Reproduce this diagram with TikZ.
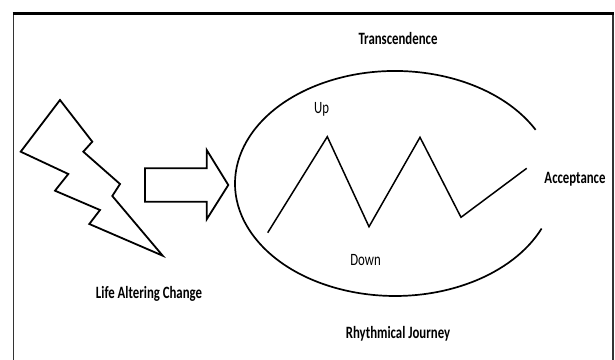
\documentclass[tikz,border=0pt]{standalone}
\usepackage{fontspec}
\setmainfont{Carlito}
\newcommand\stretchtxt[1]{\scalebox{1}[1.35]{#1}}
\begin{document}
\begin{tikzpicture}[x=1pt,y=1pt,
  lbl/.style={font=\fontsize{12.8}{15}\selectfont\bfseries, inner sep=0pt},
  lblr/.style={font=\fontsize{12.8}{15}\selectfont, inner sep=0pt},
  shapeline/.style={line width=1.8pt, line join=miter},
  thinline/.style={line width=1.5pt}]
\useasboundingbox (0,0) rectangle (615,359);
% frame
\draw[line width=1.6pt, black!80] (13.5,-3) -- (13.5,345.7);
\draw[line width=1.6pt, black!80] (612.7,-3) -- (612.7,345.7);
\draw[line width=3pt] (12.7,345.7) -- (613.5,345.7);
% lightning
\draw[shapeline] (60,259) -- (92.3,217.3) -- (83.3,207.3) -- (120,175) -- (112.3,163)
  -- (162.7,103.3) -- (89.3,135) -- (100,149) -- (55,168.3) -- (68.3,185) -- (20.7,207.3) -- cycle;
% block arrow
\draw[shapeline] (145,157.3) -- (145,190.7) -- (206.7,190.7) -- (206.7,209) -- (228.3,174)
  -- (206.7,139.7) -- (206.7,157.3) -- cycle;
% open ellipse
\draw[line width=1.7pt] (535.6,229.2) arc[start angle=28.5, end angle=336.4, x radius=160, y radius=112.5];
% zigzag
\draw[thinline] (267.7,126.3) -- (327.3,222.3) -- (369,132.3) -- (420,221.7) -- (461,141.7) -- (526.7,190.7);
% labels
\node[lbl] (trans) at (398,320.7) {\stretchtxt{Transcendence}};
\node[lblr] (up) at (321.6,249.7) {\stretchtxt{Up}};
\node[lbl] (acc) at (575,180) {\stretchtxt{Acceptance}};
\node[lblr] (down) at (365.5,99) {\stretchtxt{Down}};
\node[lbl] (life) at (149,64.7) {\stretchtxt{Life Altering Change}};
\node[lbl] (rhythm) at (398,25.7) {\stretchtxt{Rhythmical Journey}};
\end{tikzpicture}
\end{document}
